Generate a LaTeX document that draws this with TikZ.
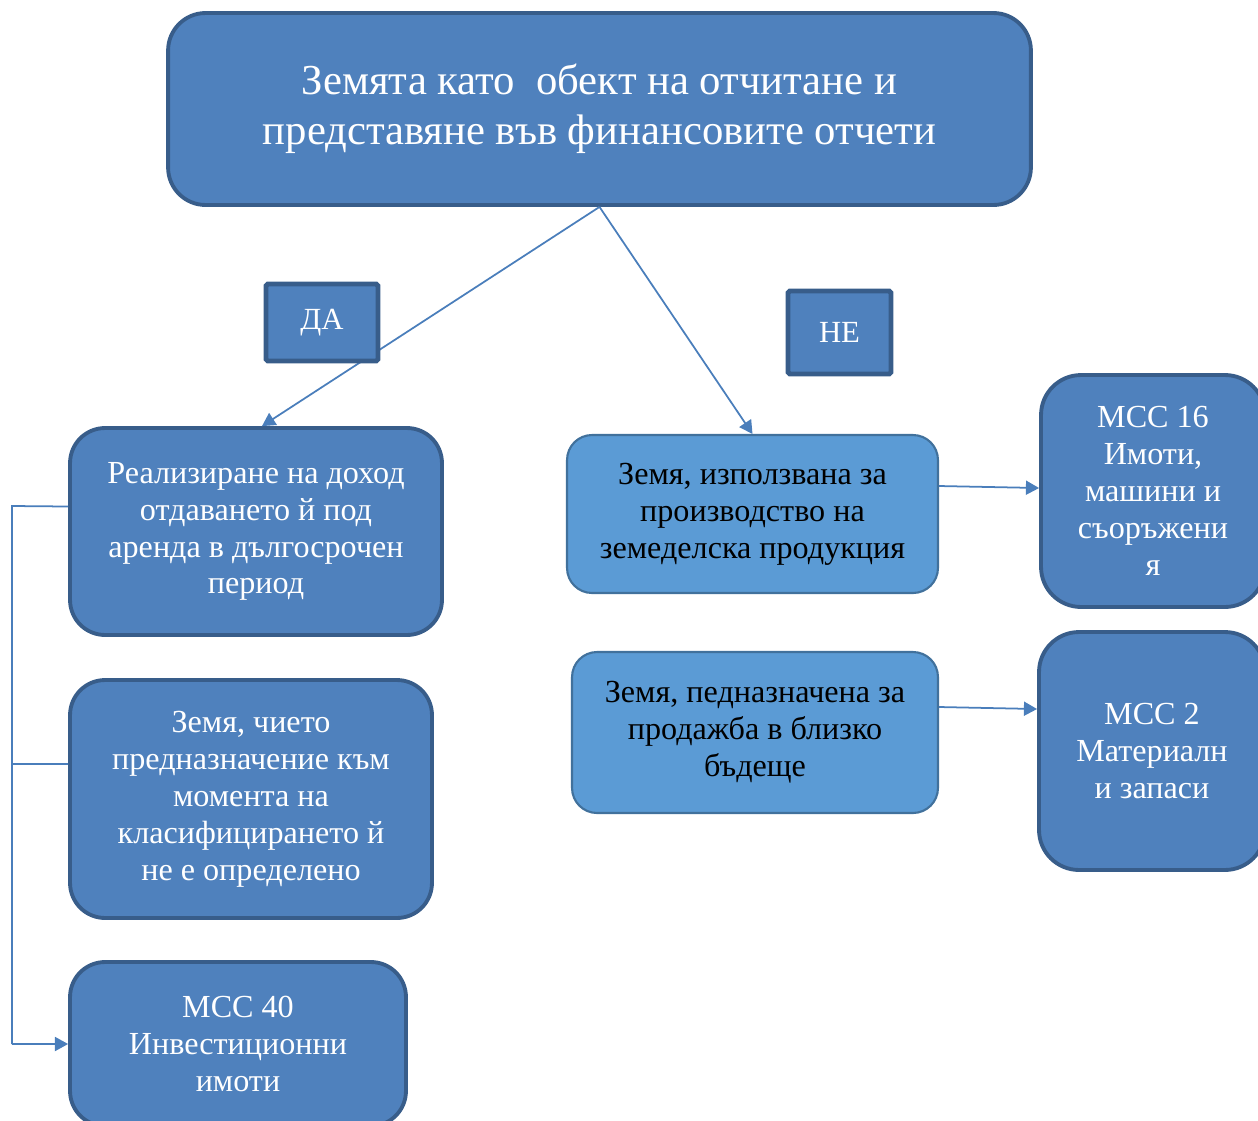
\documentclass[tikz,border=0pt]{standalone}
\usepackage{fontspec}
\setmainfont{Liberation Serif}
\usetikzlibrary{arrows.meta, positioning}
\definecolor{boxblue}{HTML}{4F81BD}
\definecolor{edgeblue}{HTML}{385D8A}
\definecolor{lightblue}{HTML}{5B9BD5}
\definecolor{lightedge}{HTML}{41719C}
\definecolor{lineblue}{HTML}{4A7EBB}

\tikzset{
  darkbox/.style={rectangle, rounded corners=0.7cm, draw=edgeblue, line width=2.2pt, fill=boxblue, text=white, align=center, inner sep=0pt, font=\fontsize{18.3}{21}\selectfont},
  lightbox/.style={rectangle, rounded corners=0.5cm, draw=lightedge, line width=1.2pt, fill=lightblue, text=black, align=center, inner sep=0pt, font=\fontsize{18.3}{21}\selectfont},
  tagbox/.style={rectangle, rounded corners=1pt, draw=edgeblue, line width=2.8pt, fill=boxblue, text=white, inner sep=0pt, font=\fontsize{17.5}{21}\selectfont},
  link/.style={draw=lineblue, line width=1pt},
  arrow/.style={link, -{Triangle[length=7.5pt,width=8pt]}}
}

\begin{document}
\begin{tikzpicture}[x=0.02cm, y=-0.02cm]
\useasboundingbox (0,0) rectangle (1258,1120);

% Title
\node[darkbox, rounded corners=0.75cm, minimum width=17.26cm, minimum height=3.84cm, font=\fontsize{24.3}{28.3}\selectfont] (topic) at (599.5,109) {Земята като\ \ обект на отчитане и\\представяне във финансовите отчети};

% Left column
\node[darkbox, minimum width=7.44cm, minimum height=4.14cm] (lease) at (256,531.5) {Реализиране на доход\\отдаването й под\\аренда в дългосрочен\\период};
\node[darkbox, minimum width=7.24cm, minimum height=4.76cm] (undecided) at (251,799) {Земя, чието\\предназначение към\\момента на\\класифицирането й\\не е определено};
\node[darkbox, minimum width=6.72cm, minimum height=3.28cm] (ias40) at (238,1044) {МСС 40\\Инвестиционни\\имоти};

% Middle column
\node[lightbox, minimum width=7.42cm, minimum height=3.16cm] (agri) at (752.5,514) {Земя, използвана за\\производство на\\земеделска продукция};
\node[lightbox, minimum width=7.32cm, minimum height=3.22cm] (sale) at (755,732.5) {Земя, педназначена за\\продажба в близко\\бъдеще};

% Right column
\node[darkbox, rounded corners=0.8cm, minimum width=4.48cm, minimum height=4.64cm] (ias16) at (1153,491) {МСС 16\\Имоти,\\машини и\\съоръжени\\я};
\node[darkbox, rounded corners=0.8cm, minimum width=4.52cm, minimum height=4.76cm] (ias2) at (1152,751) {МСС 2\\Материалн\\и запаси};

% Connectors
\draw[arrow] (topic.south) -- ([xshift=0.12cm]lease.north);
\draw[arrow] (topic.south) -- (agri.north);
\draw[arrow] ([yshift=0.56cm]agri.east) -- ([yshift=0.06cm]ias16.west);
\draw[arrow] ([yshift=0.51cm]sale.east) -- ([yshift=0.84cm]ias2.west);

\coordinate (busTop) at (12,506);
\coordinate (busMid) at (12,764);
\coordinate (busEnd) at (busTop |- ias40.west);
\draw[link] ([yshift=0.5cm]lease.west) -- (busTop) -- (busEnd);
\draw[link] (busMid) -- ([yshift=0.7cm]undecided.west);
\draw[arrow] (busEnd) -- (ias40.west);

% Answers
\node[tagbox, minimum width=2.24cm, minimum height=1.54cm] (yes) at (322,322.5) {ДА};
\node[tagbox, minimum width=2.06cm, minimum height=1.66cm] (no) at (839.5,332.5) {НЕ};
\end{tikzpicture}
\end{document}
